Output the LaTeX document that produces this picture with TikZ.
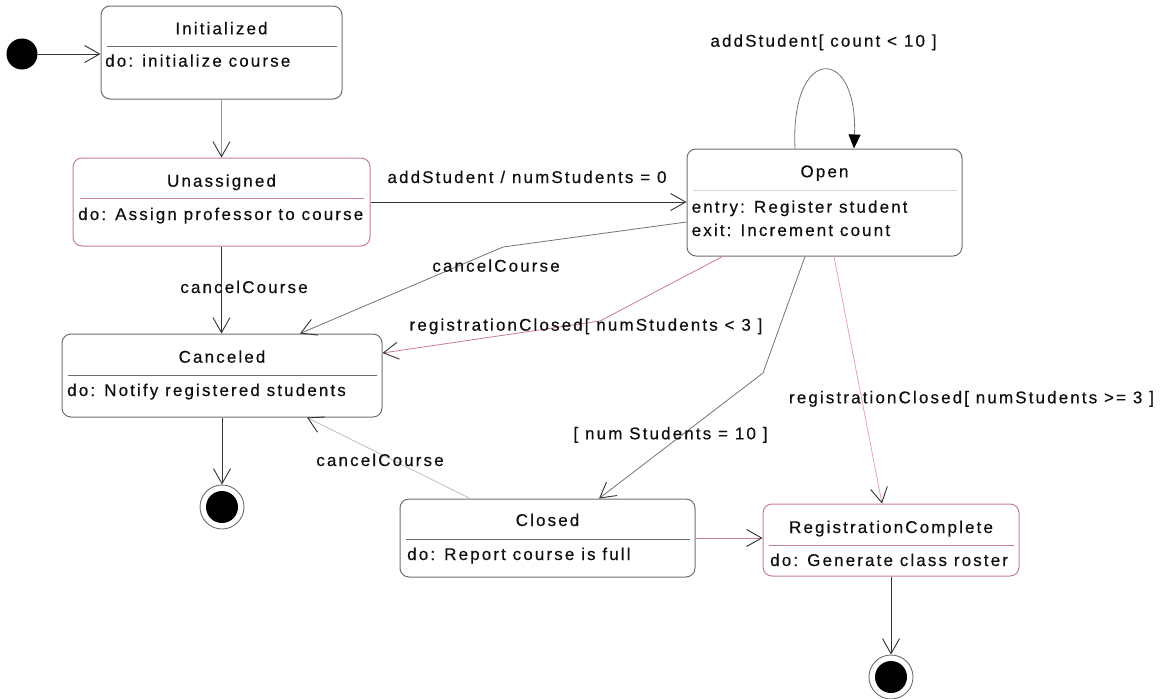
\documentclass[tikz,border=0pt]{standalone}
\usepackage{fontspec}
\setmainfont{Liberation Sans}[LetterSpace=12.5,FakeBold=0.4]
\usetikzlibrary{arrows.meta,calc}
\definecolor{boxgray}{RGB}{110,110,110}
\definecolor{seplight}{RGB}{215,215,215}
\definecolor{pinkline}{RGB}{200,125,145}
\definecolor{lightpink}{RGB}{228,165,180}
\definecolor{lightgray}{RGB}{190,190,190}
\definecolor{midgray}{RGB}{115,115,115}
\definecolor{darkline}{RGB}{50,50,50}
\definecolor{txt}{RGB}{15,15,15}
\begin{document}
\begin{tikzpicture}[x=1pt,y=-1pt,
  font=\fontsize{17}{20}\selectfont,
  state/.style={draw=boxgray, rounded corners=9pt, line width=1pt, inner sep=0pt},
  pstate/.style={state, draw=pinkline},
  sepline/.style={draw=boxgray, line width=1pt},
  title/.style={anchor=base, inner sep=0pt, text=txt},
  body/.style={anchor=base west, inner sep=0pt, text=txt},
  lbl/.style={anchor=base, inner sep=0pt, text=txt},
  conn/.style={draw=darkline, line width=0.8pt,
    -{Straight Barb[length=15pt,width=17pt,line width=0.9pt,color=darkline]}},
  dot/.style={circle, fill=black, inner sep=0pt, minimum size=31pt},
  finalring/.style={circle, draw=boxgray, fill=white, line width=0.9pt, inner sep=0pt, minimum size=44pt},
]
\useasboundingbox (0,0) rectangle (1163,699);

% states
\node[state, minimum width=241pt, minimum height=93pt] (init) at (221.5,52.5) {};
\draw[sepline] ($(init.north west)+(6,41)$) -- ($(init.north east)+(-6,41)$);
\node[title] (initT) at (221.5,34.3) {Initialized};
\node[body] (initB) at (105,66.7) {do: initialize course};

\node[pstate, minimum width=297pt, minimum height=88pt] (unas) at (221.5,202) {};
\draw[sepline, draw=pinkline] ($(unas.north west)+(7,41)$) -- ($(unas.north east)+(-7,41)$);
\node[title] (unasT) at (221.5,186.7) {Unassigned};
\node[body] (unasB) at (78,220) {do: Assign professor to course};

\node[state, minimum width=320pt, minimum height=83pt] (canc) at (222,375.5) {};
\draw[sepline] ($(canc.north west)+(6,42)$) -- ($(canc.north east)+(-6,42)$);
\node[title] (cancT) at (222,362.7) {Canceled};
\node[body] (cancB) at (67,396) {do: Notify registered students};

\node[state, minimum width=275pt, minimum height=107pt] (open) at (824.5,202.5) {};
\draw[sepline, draw=seplight] ($(open.north west)+(6,42)$) -- ($(open.north east)+(-6,42)$);
\node[title] (openT) at (824.5,177.3) {Open};
\node[body] (openE) at (691.5,212.7) {entry: Register student};
\node[body] (openX) at (691.5,236) {exit: Increment count};

\node[state, minimum width=295pt, minimum height=78pt] (closed) at (547.5,538) {};
\draw[sepline] ($(closed.north west)+(6,41)$) -- ($(closed.north east)+(-6,41)$);
\node[title] (closedT) at (547.5,526) {Closed};
\node[body] (closedB) at (407,560) {do: Report course is full};

\node[pstate, minimum width=256pt, minimum height=72pt] (regc) at (891,540) {};
\draw[sepline, draw=pinkline] ($(regc.north west)+(6,42)$) -- ($(regc.north east)+(-6,42)$);
\node[title] (regcT) at (891,533) {RegistrationComplete};
\node[body] (regcB) at (770,566) {do: Generate class roster};

% pseudo states
\node[dot] (initdot) at (22,54) {};
\node[finalring] (fin1) at (222,507) {};
\node[dot, minimum size=32pt] (fin1d) at (fin1) {};
\node[finalring] (fin2) at (891,677) {};
\node[dot, minimum size=32pt] (fin2d) at (fin2) {};

% bend points
\coordinate (b1) at (503,247);
\coordinate (b2) at (600,321);
\coordinate (b3) at (763,373);

% connectors
\draw[conn] (initdot.east) -- (initdot.east -| init.west);
\draw[conn, draw=pinkline] (init.south) -- (unas.north);
\draw[conn] (unas.south) -- (unas.south |- canc.north);
\draw[conn] (canc.south) -- (fin1.north);
\draw[conn] (unas.east) -- (unas.east -| open.west);
\draw[conn, draw=midgray] ($(open.west)+(0,19.5)$) -- (b1) -- ($(canc.north)+(78,0)$);
\draw[conn, draw=pinkline] ($(open.south west)+(36,0)$) -- (b2) -- ($(canc.east)+(0,-22.5)$);
\draw[conn, draw=midgray] ($(open.south)+(-19.5,0)$) -- (b3) -- ($(closed.north)+(51.5,0)$);
\draw[conn, draw=lightpink] ($(open.south)+(9.5,0)$) -- ($(regc.north)+(-9,0)$);
\draw[conn, draw=lightgray] ($(closed.north)+(-77.5,0)$) -- ($(canc.south)+(85,0)$);
\draw[conn, draw=pinkline] (closed.east) -- (closed.east -| regc.west);
\draw[conn] (regc.south) -- (fin2.north);
\draw[draw=midgray, line width=0.8pt, -{Triangle[length=14pt,width=12pt,color=black]}]
  ($(open.north)+(-29.5,0)$) .. controls +(-5,-104) and +(4,-104) .. ($(open.north)+(29.5,0)$);

% labels
\node[lbl] (l1) at (527,183) {addStudent / numStudents = 0};
\node[lbl] (l2) at (823.5,46.7) {addStudent[ count < 10 ]};
\node[lbl] (l3) at (244,293) {cancelCourse};
\node[lbl] (l4) at (496,271.7) {cancelCourse};
\node[lbl] (l5) at (586,330.7) {registrationClosed[ numStudents < 3 ]};
\node[lbl] (l6) at (670.5,439.3) {[ num Students = 10 ]};
\node[lbl] (l7) at (971.5,403.3) {registrationClosed[ numStudents >= 3 ]};
\node[lbl] (l8) at (380,466) {cancelCourse};
\end{tikzpicture}
\end{document}
